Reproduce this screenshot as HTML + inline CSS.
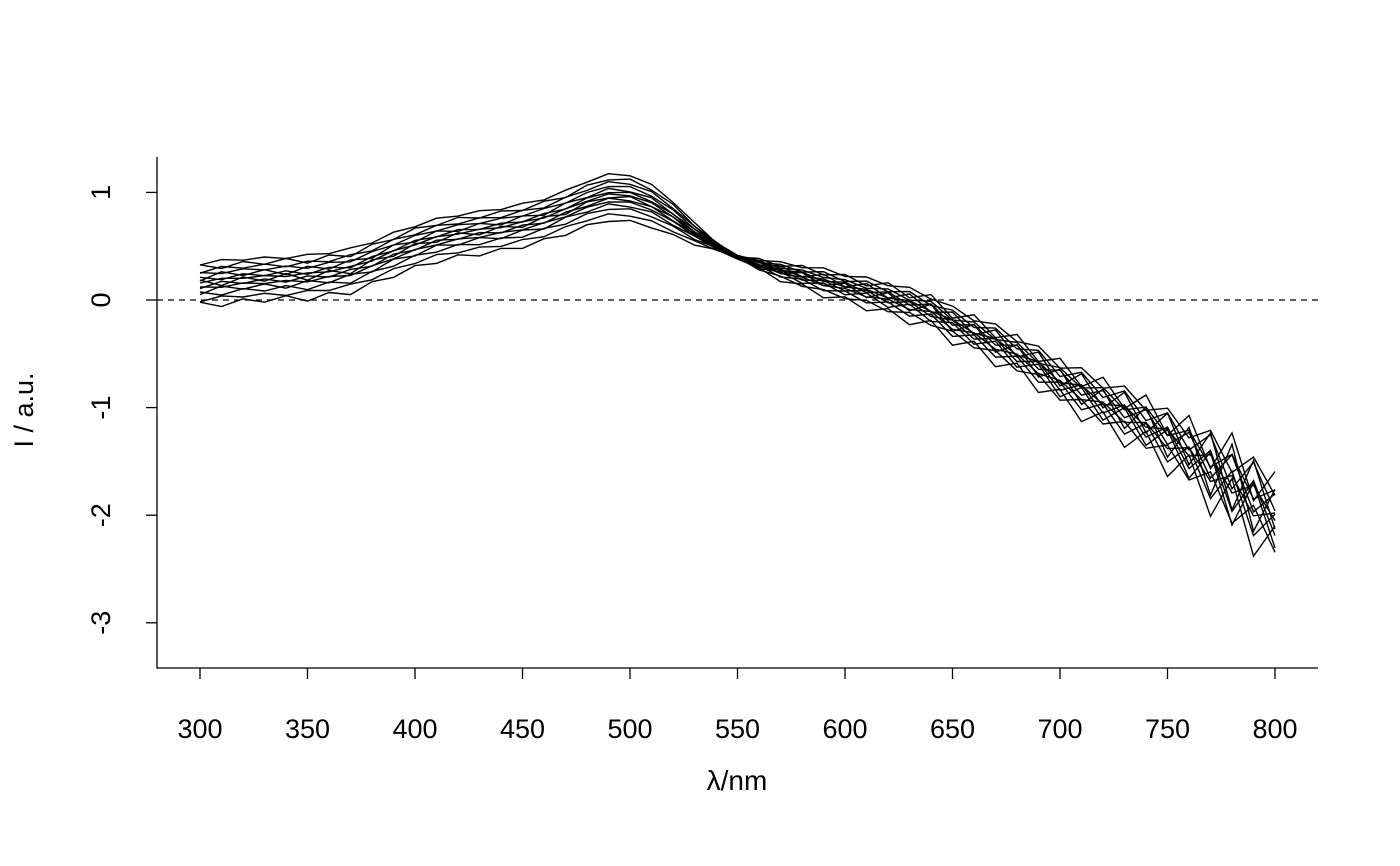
<!DOCTYPE html>
<html><head><meta charset="utf-8"><style>
html,body{margin:0;padding:0;background:#fff;}
svg{display:block;font-family:"Liberation Sans",Arial,sans-serif;}
</style></head><body>
<svg id="chart" width="1400" height="866" viewBox="0 0 1400 866">
<g id="axes"></g>
<g id="series"></g>
</svg>
<script>
const wavelengths=[300,310,320,330,340,350,360,370,380,390,400,410,420,430,440,450,460,470,480,490,500,510,520,530,540,550,560,570,580,590,600,610,620,630,640,650,660,670,680,690,700,710,720,730,740,750,760,770,780,790,800];
const baseCurve=[0.15,0.17,0.19,0.2,0.21,0.22,0.25,0.28,0.35,0.43,0.5,0.56,0.6,0.63,0.66,0.7,0.75,0.82,0.9,0.96,0.95,0.88,0.76,0.62,0.5,0.4,0.33,0.27,0.22,0.17,0.12,0.07,0.02,-0.04,-0.1,-0.22,-0.3,-0.4,-0.5,-0.62,-0.75,-0.85,-0.95,-1.05,-1.15,-1.28,-1.4,-1.55,-1.7,-1.85,-2.0];
const spreadProfile=[1,1,1,1,1,1,1,1,1,1,1,1,1,1,1,1,1,1,1.05,1.1,1.1,1.0,0.8,0.5,0.2,0.05,0.25,0.4,0.5,0.6,0.6,0.65,0.7,0.7,0.7,0.7,0.72,0.75,0.78,0.8,0.85,0.9,0.95,1.0,1.0,1.05,1.1,1.2,1.3,1.4,1.5];
const noiseProfile=[0.03,-0.03,0.02,-0.02,0.03,-0.03,0.02,-0.03,0.02,-0.02,0.02,-0.02,0.02,-0.02,0.02,-0.02,0.02,-0.02,0.01,-0.01,0.01,-0.01,0.01,-0.01,0.01,-0.01,0.02,-0.02,0.03,-0.03,0.03,-0.04,0.04,-0.05,0.05,-0.06,0.06,-0.07,0.07,-0.08,0.09,-0.1,0.1,-0.12,0.13,-0.15,0.18,-0.22,0.3,-0.25,0.2];
const seriesOffsets=[-0.2,-0.15,-0.1,-0.07,-0.04,-0.02,0,0.02,0.04,0.06,0.09,0.12,0.15,0.19];
const seriesNoise=[1,-0.6,0.8,-1,0.4,-0.8,1.2,-0.4,0.7,-1.1,0.5,-0.7,0.9,-0.5];
const xTicks=[300,350,400,450,500,550,600,650,700,750,800];
const yTicks=[1,0,-1,-2,-3];
const NS="http://www.w3.org/2000/svg";
const xS=v=>200+(v-300)*2.15;
const yS=v=>300-v*107.6;
function mk(t,a,p){const e=document.createElementNS(NS,t);for(const k in a)e.setAttribute(k,a[k]);p.appendChild(e);return e;}
const ax=document.getElementById('axes');
let l=mk('path',{d:'M157,157 V668 H1318',stroke:'#000','stroke-width':1.3,fill:'none'},ax);


xTicks.forEach(v=>{
 const t=mk('line',{x1:xS(v),x2:xS(v),y1:668,y2:679,stroke:'#000','stroke-width':1.3},ax);
 
 
 const tx=mk('text',{x:xS(v),y:738,'font-size':27,'text-anchor':'middle'},ax);tx.textContent=v;
 
 
});
yTicks.forEach(v=>{
 const t=mk('line',{x1:146,x2:157,y1:yS(v),y2:yS(v),stroke:'#000','stroke-width':1.3},ax);
 
 
 const tx=mk('text',{x:0,y:0,'font-size':27,'text-anchor':'middle',transform:`translate(110,${yS(v)}) rotate(-90)`},ax);tx.textContent=v;
 
 
});
const zl=mk('line',{x1:157,x2:1318,y1:yS(0),y2:yS(0),stroke:'#000','stroke-width':1.3,'stroke-dasharray':'6,5'},ax);


const xl=mk('text',{x:737,y:790,'font-size':28,'text-anchor':'middle'},ax);xl.textContent='λ/nm';


const yl=mk('text',{x:0,y:0,'font-size':27,'text-anchor':'middle',transform:'translate(33,410) rotate(-90)'},ax);yl.textContent='I / a.u.';


const sg=document.getElementById('series');
seriesOffsets.forEach((o,i)=>{
 const pts=wavelengths.map((w,j)=>xS(w)+','+yS(baseCurve[j]+o*spreadProfile[j]+noiseProfile[j]*seriesNoise[i]).toFixed(1)).join(' ');
 const p=mk('polyline',{points:pts,fill:'none',stroke:'#000','stroke-width':1.4},sg);
 
 
});
</script>
</body></html>
